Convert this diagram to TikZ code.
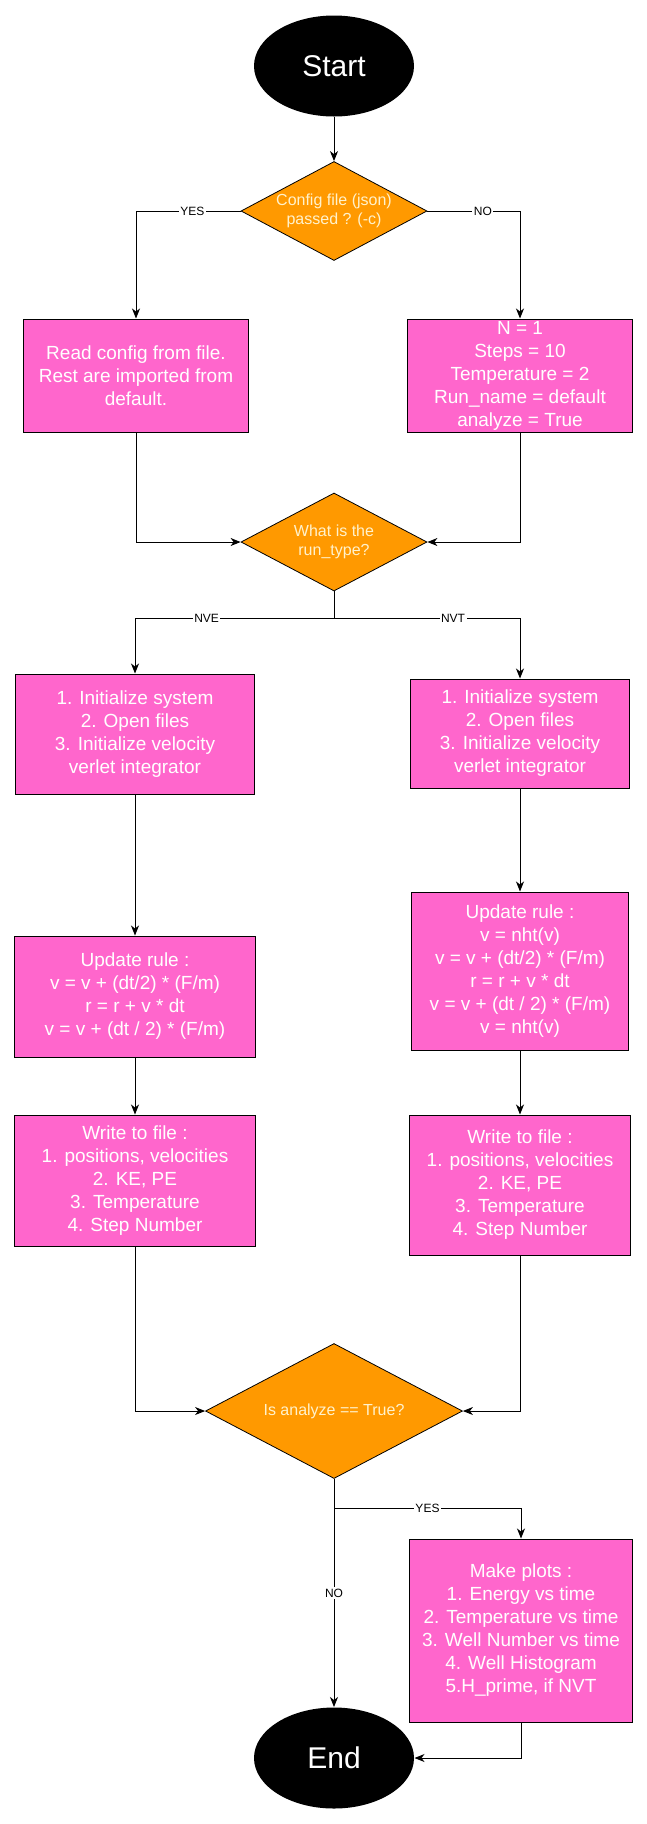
\documentclass[tikz,border=0pt]{standalone}
\usepackage{fontspec}
\setmainfont{Liberation Sans}
\usepackage{xcolor}
\usetikzlibrary{shapes.geometric,arrows.meta,positioning}

\definecolor{pinkbox}{HTML}{FF66CC}
\definecolor{orangedec}{HTML}{FF9900}
\definecolor{creamtext}{HTML}{FFF2CC}

\begin{document}
\begin{tikzpicture}[x=1pt,y=-1pt,->,>={Stealth[length=10pt,width=8pt,inset=3pt]},line width=1pt]

   \tikzstyle{terminal}=[ellipse,fill=black,draw=none,text=white,minimum width=160pt,minimum height=101pt,inner sep=0pt,font=\fontsize{30}{36}\selectfont]
   \tikzstyle{decision}=[diamond,aspect=1.9,fill=orangedec,draw=black,line width=0.8pt,text=creamtext,inner sep=0pt,align=center,font=\fontsize{16}{19}\selectfont]
   \tikzstyle{process}=[rectangle,fill=pinkbox,draw=black,text=white,inner sep=0pt,align=center,font=\fontsize{19}{23}\selectfont]
   \tikzstyle{branch}=[fill=white,text=black,inner sep=1.5pt,font=\fontsize{12}{14}\selectfont]

   % page size of the reference
   \useasboundingbox (0,0) rectangle (647,1824);

    \node[terminal] at (334,66) (start) {Start};

    \node[decision,minimum width=186pt,minimum height=99pt] at (334,211) (config)
    {Config file (json)\\passed ? (-c)};

    \node[process,minimum width=225pt,minimum height=113pt] at (136,375.5) (readcfg)
    {Read config from file.\\Rest are imported from\\default.};

    \node[process,minimum width=225pt,minimum height=113pt] at (520,375.5) (defaults)
    {N = 1\\Steps = 10\\Temperature = 2\\Run\_name = default\\analyze = True};

    \node[decision,minimum width=186pt,minimum height=98pt] at (334,542) (runtype)
    {What is the\\run\_type?};

    \coordinate (typefork) at (334,618);

    \node[process,minimum width=239pt,minimum height=120pt] at (135,734) (nveinit)
    {1. Initialize system\\2. Open files\\3. Initialize velocity\\verlet integrator};

    \node[process,minimum width=219pt,minimum height=109pt] at (520,733.5) (nvtinit)
    {1. Initialize system\\2. Open files\\3. Initialize velocity\\verlet integrator};

    \node[process,minimum width=241pt,minimum height=121pt] at (135,996.5) (nveupdate)
    {Update rule :\\v = v + (dt/2) * (F/m)\\r = r + v * dt\\v = v + (dt / 2) * (F/m)};

    \node[process,minimum width=217pt,minimum height=158pt] at (520,971) (nvtupdate)
    {Update rule :\\v = nht(v)\\v = v + (dt/2) * (F/m)\\r = r + v * dt\\v = v + (dt / 2) * (F/m)\\v = nht(v)};

    \node[process,minimum width=241pt,minimum height=131pt] at (135,1180.5) (nvewrite)
    {Write to file :\\1. positions, velocities\\2. KE, PE\\3. Temperature\\4. Step Number};

    \node[process,minimum width=221pt,minimum height=140pt] at (520,1185) (nvtwrite)
    {Write to file :\\1. positions, velocities\\2. KE, PE\\3. Temperature\\4. Step Number};

    \node[decision,minimum width=257pt,minimum height=135pt] at (334,1411) (analyze)
    {Is analyze == True?};

    \coordinate (yesfork) at (334,1508);

    \node[process,minimum width=223pt,minimum height=183pt] at (521,1630.5) (plots)
    {Make plots :\\1. Energy vs time\\2. Temperature vs time\\3. Well Number vs time\\4. Well Histogram\\5.H\_prime, if NVT};

    \node[terminal] at (334,1758) (finish) {End};

    \draw (start) -- (config);
    \draw (config.west) -| (readcfg.north) node[branch,pos=0.23] {YES};
    \draw (config.east) -| (defaults.north) node[branch,pos=0.3] {NO};

    \draw (readcfg.south) |- (runtype.west);
    \draw (defaults.south) |- (runtype.east);

    \draw [-] (runtype.south) -- (typefork);
    \draw (typefork) -| (nveinit.north) node[branch,pos=0.32] {NVE};
    \draw (typefork) -| (nvtinit.north) node[branch,pos=0.32] {NVT};

    \draw (nveinit) -- (nveupdate);
    \draw (nveupdate) -- (nvewrite);
    \draw (nvtinit) -- (nvtupdate);
    \draw (nvtupdate) -- (nvtwrite);

    \draw (nvewrite.south) |- (analyze.west);
    \draw (nvtwrite.south) |- (analyze.east);

    \draw (analyze.south) -- (finish.north) node[branch,midway] {NO};
    \draw (yesfork) -| (plots.north) node[branch,pos=0.25] {YES};
    \draw (plots.south) |- (finish.east);

\end{tikzpicture}
\end{document}
